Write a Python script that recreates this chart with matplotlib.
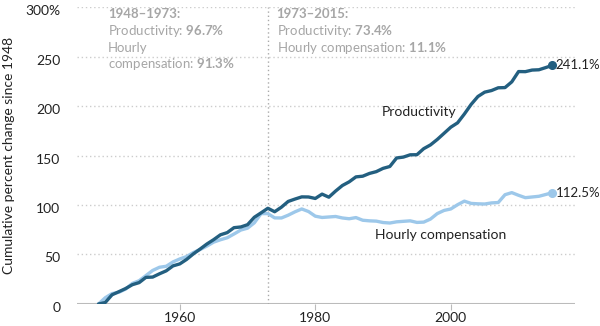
import matplotlib.pyplot as plt
from matplotlib import transforms

plt.rcParams['font.family'] = ['Lato', 'DejaVu Sans']
plt.rcParams['mathtext.fontset'] = 'custom'
plt.rcParams['mathtext.rm'] = 'Lato'
plt.rcParams['mathtext.bf'] = 'Lato:bold'

years = list(range(1948, 2016))
productivity = [0, 1.5, 9.3, 12.4, 15.6, 19.5, 21.6, 26.9, 27.2, 30.5,
                33.5, 38.5, 40.5, 45.0, 50.6, 55.5, 60.6, 65.0, 69.9, 72.1,
                77.1, 77.8, 80.1, 87.6, 92.1, 96.7, 93.2, 97.8, 103.6, 106.0,
                108.2, 108.1, 106.6, 111.0, 107.9, 114.1, 119.7, 123.4, 128.4, 129.1,
                131.9, 133.7, 137.0, 138.9, 147.5, 148.4, 150.7, 150.8, 156.9, 160.7,
                166.2, 172.4, 178.6, 183.0, 191.9, 201.6, 209.6, 214.0, 215.6, 218.4,
                218.6, 224.4, 234.8, 234.7, 236.3, 236.6, 238.8, 241.1]
compensation = [0, 6.3, 10.5, 11.8, 15.0, 20.8, 23.5, 28.7, 33.9, 37.1,
                38.1, 42.5, 45.5, 47.9, 52.0, 55.0, 58.5, 62.5, 64.9, 66.9,
                70.7, 74.7, 76.6, 82.0, 91.3, 91.3, 87.0, 86.9, 89.7, 93.1,
                96.0, 93.4, 88.7, 87.4, 87.9, 88.4, 86.9, 86.1, 87.3, 84.6,
                84.0, 83.7, 82.3, 81.8, 83.0, 83.5, 84.0, 82.4, 82.7, 85.8,
                91.3, 94.5, 96.0, 100.3, 103.9, 101.6, 101.2, 101.0, 102.1, 102.5,
                110.4, 112.5, 109.8, 107.4, 108.1, 108.8, 110.6, 112.5]

yticks = [0, 50, 100, 150, 200, 250, 300]
ytick_labels = ['0', '50', '100', '150', '200', '250', '300%']
xticks = [1960, 1980, 2000]

dark = '#235f80'
light = '#9dc8ea'
grey_txt = '#a6a6a6'

fig = plt.figure(figsize=(6, 3.26), dpi=100)
ax = fig.add_axes([0.128, 0.0675, 0.83, 0.911])

for y in yticks[1:]:
    ax.axhline(y, color='#cccccc', lw=1, ls=(0, (1, 2)), zorder=1)
ax.axhline(0, color='#bbbbbb', lw=1.5, zorder=1)
ax.axvline(1973, color='#aaaaaa', lw=1, ls=(0, (1, 2)), zorder=1)

ax.plot(years, compensation, color=light, lw=2.4, zorder=3, solid_capstyle='round')
ax.plot(years, productivity, color=dark, lw=2.4, zorder=4, solid_capstyle='round')
ax.plot(years[-1], compensation[-1], 'o', color=light, ms=5.5, zorder=5)
ax.plot(years[-1], productivity[-1], 'o', color=dark, ms=5.5, zorder=5)

ax.set_xlim(1944.8, 2018.3)
ax.set_ylim(0, 300)
ax.set_yticks(yticks)
ax.set_yticklabels(ytick_labels)
ax.set_xticks(xticks)
for s in ax.spines.values():
    s.set_visible(False)
ax.tick_params(axis='y', length=0, pad=12, labelsize=10, labelcolor='#222222')
ax.tick_params(axis='x', length=4, color='#bbbbbb', pad=2, labelsize=10, labelcolor='#222222')
off = transforms.ScaledTranslation(0, -3 / 100, fig.dpi_scale_trans)
for lab in ax.get_yticklabels():
    lab.set_transform(lab.get_transform() + off)
ax.set_ylabel('Cumulative percent change since 1948', fontsize=10, color='#222222')
ax.yaxis.set_label_coords(-0.125, 0.5)

ax.annotate('241.1%', (years[-1], productivity[-1]), xytext=(2.5, 0), textcoords='offset points',
            va='center', fontsize=9.5, color='#222222')
ax.annotate('112.5%', (years[-1], compensation[-1]), xytext=(2.5, 0), textcoords='offset points',
            va='center', fontsize=9.5, color='#222222')
ax.text(1989.8, 194, 'Productivity', fontsize=10, color='#222222', va='center')
ax.text(1988.8, 70, 'Hourly compensation', fontsize=10, color='#222222', va='center')

fs = 9.5
ax.text(1949.4, 293, '1948–1973:', fontsize=fs, color=grey_txt, fontweight='bold', va='center')
ax.text(1949.4, 276, 'Productivity: $\\bf{96.7\\%}$', fontsize=fs, color=grey_txt, va='center')
ax.text(1949.4, 259, 'Hourly', fontsize=fs, color=grey_txt, va='center')
ax.text(1949.4, 242, 'compensation: $\\bf{91.3\\%}$', fontsize=fs, color=grey_txt, va='center')
ax.text(1974.3, 293, '1973–2015:', fontsize=fs, color=grey_txt, fontweight='bold', va='center')
ax.text(1974.3, 276, 'Productivity: $\\bf{73.4\\%}$', fontsize=fs, color=grey_txt, va='center')
ax.text(1974.3, 259, 'Hourly compensation: $\\bf{11.1\\%}$', fontsize=fs, color=grey_txt, va='center')

fig.savefig('out.png', dpi=100)
